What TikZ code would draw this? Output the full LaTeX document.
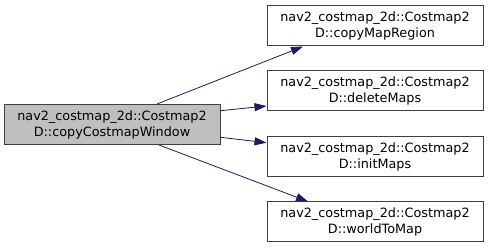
\documentclass[tikz,border=0pt]{standalone}
\usepackage{fontspec}
\setmainfont{DejaVu Sans}
\usetikzlibrary{arrows.meta}
\usepackage{xcolor}
\definecolor{edgeblue}{RGB}{25,25,112}
\definecolor{nodeborder}{RGB}{64,64,64}
\definecolor{callerfill}{RGB}{191,191,191}

\tikzset{
  fnbox/.style={draw=nodeborder,line width=1pt,fill=white,minimum width=216pt,
    minimum height=40pt,inner sep=0pt,align=center,
    font=\fontsize{12.8}{16}\selectfont},
  callerbox/.style={fnbox,fill=callerfill},
  callarrow/.style={edgeblue,line width=0.8pt,-{Triangle[length=12pt,width=8pt]}}
}

\begin{document}
\begin{tikzpicture}[x=1pt,y=-1pt]
  \useasboundingbox (0,0) rectangle (488,248);

  % --- caller ---
  \node[callerbox] (copyCostmapWindow) at (112,124.5)
    {nav2\_costmap\_2d::Costmap2\\D::copyCostmapWindow};

  % --- callees ---
  \node[fnbox] (copyMapRegion) at (375,26)
    {nav2\_costmap\_2d::Costmap2\\D::copyMapRegion};
  \node[fnbox] (deleteMaps) at (375,91)
    {nav2\_costmap\_2d::Costmap2\\D::deleteMaps};
  \node[fnbox] (initMaps) at (375,156.5)
    {nav2\_costmap\_2d::Costmap2\\D::initMaps};
  \node[fnbox] (worldToMap) at (375,222)
    {nav2\_costmap\_2d::Costmap2\\D::worldToMap};

  % --- calls ---
  \draw[callarrow] ([xshift=45pt]copyCostmapWindow.north) -- ([xshift=-72pt]copyMapRegion.south);
  \draw[callarrow] ([yshift=13.8pt]copyCostmapWindow.east) -- ([yshift=-15pt]deleteMaps.west);
  \draw[callarrow] ([yshift=-12.8pt]copyCostmapWindow.east) -- ([yshift=13.8pt]initMaps.west);
  \draw[callarrow] ([xshift=47pt]copyCostmapWindow.south) -- ([xshift=-67pt]worldToMap.north);

\end{tikzpicture}
\end{document}
